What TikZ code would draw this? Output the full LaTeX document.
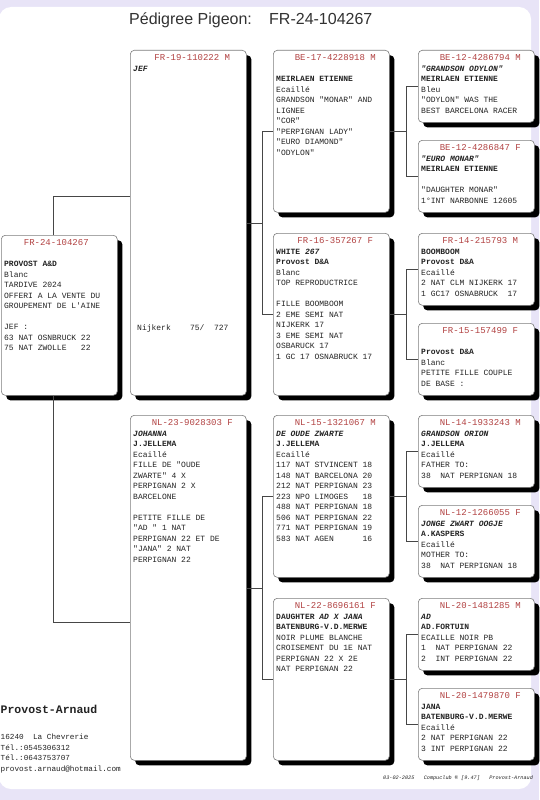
\documentclass[tikz,border=0pt]{standalone}
\usepackage{fontspec}
\setmainfont{Liberation Sans}
\setmonofont{Liberation Mono}
\usetikzlibrary{calc,shadows}
\definecolor{lav}{RGB}{232,228,247}
\definecolor{hdrred}{RGB}{178,66,66}
\definecolor{bordergray}{RGB}{125,125,125}
\definecolor{linegray}{RGB}{70,70,70}
\definecolor{titlegray}{RGB}{50,50,50}
\definecolor{txtgray}{RGB}{35,35,35}
\tikzset{
  pbox/.style={draw=bordergray, line width=0.6pt, fill=white, rounded corners=4pt,
    minimum width=116pt, inner sep=0pt,
    drop shadow={shadow xshift=5pt, shadow yshift=-5pt, fill=black, opacity=1}},
  hdr/.style={inner sep=0pt, anchor=base, text=hdrred, font=\ttfamily\fontsize{9}{10}\selectfont},
  txt/.style={inner sep=0pt, anchor=base west, text=txtgray, font=\ttfamily\fontsize{8}{8.5}\selectfont},
  conn/.style={draw=linegray, line width=0.6pt},
  plain/.style={inner sep=0pt, anchor=base west},
}
\newcommand\pedbox[7]{%
  \node[pbox, minimum height=#4pt, anchor=north west] (#1) at (#2,#3) {};
  \node[hdr] (#1h) at ($(#1.north)+(#6,10.7)$) {#5};
  \foreach \t [count=\i from 0] in {#7} {\node[txt] (#1l\i) at ($(#1.north west)+(3,21.3+10.5*\i)$) {\t};}
}
\begin{document}
\begin{tikzpicture}[x=1pt,y=-1pt]
\useasboundingbox (0,0) rectangle (539,800);
\fill[lav] (0,0) rectangle (539,800);
\fill[white, rounded corners=12pt] (-1,7) rectangle (531,789);

% title
\node[plain, font=\fontsize{16}{18}\selectfont, text=titlegray] (title) at (129,24.5) {Pédigree Pigeon:};
\node[plain, font=\fontsize{16}{18}\selectfont, text=titlegray] (titleid) at (269,24.5) {FR-24-104267};

% main
\pedbox{m}{1}{235}{160}{FR-24-104267}{-3}{{}, {\textbf{PROVOST A\&D}}, Blanc, TARDIVE 2024, OFFERI A LA VENTE DU, GROUPEMENT DE L'AINE, {}, JEF :, 63 NAT OSNBRUCK 22, 75 NAT ZWOLLE~~~22}

% parents
\pedbox{f}{130}{50}{345}{FR-19-110222 M}{4}{{\textbf{\textit{JEF}}}}
\node[txt] (fres) at ($(f.north west)+(7,280)$) {Nijkerk~~~~75/~~727};
\pedbox{mo}{130}{415}{345}{NL-23-9028303 F}{4}{{\textbf{\textit{JOHANNA}}}, {\textbf{J.JELLEMA}}, Ecaillé, FILLE DE "OUDE, ZWARTE" 4 X, PERPIGNAN 2 X, BARCELONE, {}, PETITE FILLE DE, "AD " 1 NAT, PERPIGNAN 22 ET DE, "JANA" 2 NAT, PERPIGNAN 22}

% grandparents
\pedbox{ff}{273}{50}{162}{BE-17-4228918 M}{4}{{}, {\textbf{MEIRLAEN ETIENNE}}, Ecaillé, GRANDSON "MONAR" AND, LIGNEE, "COR", "PERPIGNAN LADY", "EURO DIAMOND", "ODYLON"}
\pedbox{fm}{273}{233}{162}{FR-16-357267 F}{4}{{\textbf{WHITE \textit{267}}}, {\textbf{Provost D\&A}}, Blanc, TOP REPRODUCTRICE, {}, FILLE BOOMBOOM, 2 EME SEMI NAT, NIJKERK 17, 3 EME SEMI NAT, OSBARUCK 17, 1 GC 17 OSNABRUCK 17}
\pedbox{mf}{273}{415}{162}{NL-15-1321067 M}{4}{{\textbf{\textit{DE OUDE ZWARTE}}}, {\textbf{J.JELLEMA}}, Ecaillé, 117 NAT STVINCENT 18, 148 NAT BARCELONA 20, 212 NAT PERPIGNAN 23, 223 NPO LIMOGES~~~18, 488 NAT PERPIGNAN 18, 506 NAT PERPIGNAN 22, 771 NAT PERPIGNAN 19, 583 NAT AGEN~~~~~~16}
\pedbox{mm}{273}{598}{162}{NL-22-8696161 F}{4}{{\textbf{DAUGHTER \textit{AD X JANA}}}, {\textbf{BATENBURG-V.D.MERWE}}, NOIR PLUME BLANCHE, CROISEMENT DU 1E NAT, PERPIGNAN 22 X 2E, NAT PERPIGNAN 22}

% great-grandparents
\pedbox{fff}{418}{50}{72}{BE-12-4286794 M}{4}{{\textbf{\textit{"GRANDSON ODYLON"}}}, {\textbf{MEIRLAEN ETIENNE}}, Bleu, "ODYLON" WAS THE, BEST BARCELONA RACER}
\pedbox{ffm}{418}{140}{72}{BE-12-4286847 F}{4}{{\textbf{\textit{"EURO MONAR"}}}, {\textbf{MEIRLAEN ETIENNE}}, {}, "DAUGHTER MONAR", 1°INT NARBONNE 12605}
\pedbox{fmf}{418}{233}{72}{FR-14-215793 M}{4}{{\textbf{BOOMBOOM}}, {\textbf{Provost D\&A}}, Ecaillé, 2 NAT CLM NIJKERK 17, 1 GC17 OSNABRUCK~~17}
\pedbox{fmm}{418}{323}{72}{FR-15-157499 F}{4}{{}, {\textbf{Provost D\&A}}, Blanc, PETITE FILLE COUPLE, DE BASE :}
\pedbox{mff}{418}{415}{72}{NL-14-1933243 M}{4}{{\textbf{\textit{GRANDSON ORION}}}, {\textbf{J.JELLEMA}}, Ecaillé, FATHER TO:, 38~~NAT PERPIGNAN 18}
\pedbox{mfm}{418}{505}{72}{NL-12-1266055 F}{4}{{\textbf{\textit{JONGE ZWART OOGJE}}}, {\textbf{A.KASPERS}}, Ecaillé, MOTHER TO:, 38~~NAT PERPIGNAN 18}
\pedbox{mmf}{418}{598}{72}{NL-20-1481285 M}{4}{{\textbf{\textit{AD}}}, {\textbf{AD.FORTUIN}}, ECAILLE NOIR PB, 1~~NAT PERPIGNAN 22, 2~~INT PERPIGNAN 22}
\pedbox{mmm}{418}{688}{72}{NL-20-1479870 F}{4}{{\textbf{JANA}}, {\textbf{BATENBURG-V.D.MERWE}}, Ecaillé, 2 NAT PERPIGNAN 22, 3 INT PERPIGNAN 22}

% connectors main -> parents
\coordinate (kjef) at ($(f.north west)+(0,146)$);
\coordinate (kmo) at ($(mo.north west)+(0,207)$);
\draw[conn] ([xshift=-6pt]m.north) |- (kjef);
\draw[conn] ([xshift=-6pt]m.south) |- (kmo);

% parents -> grandparents
\coordinate (kf) at ($(f.east)+(16,0)$);
\draw[conn] (f.east) -- (kf);
\draw[conn] (ff.west) -| (kf) |- (fm.west);
\coordinate (kmo2) at ($(mo.east)+(16,0)$);
\draw[conn] (mo.east) -- (kmo2);
\draw[conn] (mf.west) -| (kmo2) |- (mm.west);

% grandparents -> great-grandparents
\foreach \g in {ff,fm,mf,mm}{
  \coordinate (k\g) at ($(\g.east)+(17,0)$);
  \draw[conn] (\g.east) -- (k\g);
  \draw[conn] (\g f.west) -| (k\g) |- (\g m.west);
}

% breeder address
\node[plain, font=\ttfamily\bfseries\fontsize{11.5}{12}\selectfont, text=txtgray] (own) at (0.5,713) {Provost-Arnaud};
\node[plain, font=\ttfamily\fontsize{7.7}{8}\selectfont, text=txtgray] (ad1) at (0.5,739.5) {16240~~La Chevrerie};
\node[plain, font=\ttfamily\fontsize{7.7}{8}\selectfont, text=txtgray] (ad2) at (0.5,750) {Tél.:0545306312};
\node[plain, font=\ttfamily\fontsize{7.7}{8}\selectfont, text=txtgray] (ad3) at (0.5,760.5) {Tél.:0643753707};
\node[plain, font=\ttfamily\fontsize{7.7}{8}\selectfont, text=txtgray] (ad4) at (0.5,771) {provost.arnaud@hotmail.com};

% footer
\node[plain, font=\ttfamily\itshape\fontsize{5.2}{6}\selectfont, text=txtgray] (foot) at (383,779) {03-02-2025~~~Compuclub ® [9.47]~~~Provost-Arnaud};
\end{tikzpicture}
\end{document}
